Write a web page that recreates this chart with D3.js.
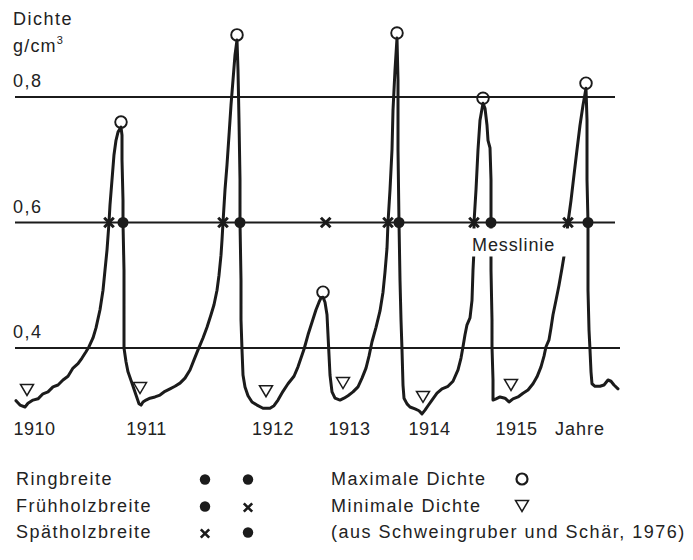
<!DOCTYPE html>
<html>
<head>
<meta charset="utf-8">
<script src="https://cdn.jsdelivr.net/npm/d3@7"></script>
<style>
  html, body { margin: 0; padding: 0; background: #fff; }
  svg text { font-family: "Liberation Sans", Arial, Helvetica, sans-serif; fill: #222; }
</style>
</head>
<body>
<script>
// Density profile along the core (position in mm, density in g/cm³)
const position = [
  0.1, 0.5, 1.0, 1.3, 1.8, 2.3, 2.8, 3.3, 3.8, 4.3, 4.8, 5.3, 5.8, 6.3, 6.7, 7.1, 7.4, 7.8, 8.1, 8.5,
  8.8, 9.0, 9.2, 9.3, 9.4, 9.5, 9.7, 9.9, 10.1, 10.3, 10.6, 10.7, 10.7, 10.8, 10.8, 10.9, 10.9, 10.9,
  11.1, 11.3, 11.7, 12.1, 12.4, 12.6, 12.8, 13.1, 13.5, 14.0, 14.5, 15.0, 15.5, 16.0, 16.5, 17.0, 17.5,
  17.9, 18.3, 18.8, 19.2, 19.6, 19.9, 20.2, 20.4, 20.6, 20.7, 20.8, 21.0, 21.2, 21.4, 21.6, 21.8, 22.0,
  22.2, 22.3, 22.4, 22.5, 22.5, 22.6, 22.6, 22.7, 22.8, 23.0, 23.3, 23.7, 24.2, 24.8, 25.5, 25.9, 26.3,
  26.8, 27.3, 27.9, 28.3, 28.6, 28.9, 29.3, 29.7, 30.1, 30.4, 30.6, 30.8, 31.0, 31.2, 31.3, 31.4, 31.5,
  31.7, 32.0, 32.5, 32.9, 33.3, 33.8, 34.3, 34.7, 35.1, 35.4, 35.7, 36.1, 36.5, 36.8, 37.0, 37.2, 37.3,
  37.5, 37.7, 37.8, 38.0, 38.2, 38.3, 38.3, 38.4, 38.5, 38.6, 38.7, 38.8, 38.9, 39.2, 39.5, 40.0, 40.4,
  40.7, 41.0, 41.3, 41.7, 42.2, 42.7, 43.3, 43.8, 44.3, 44.6, 44.8, 45.0, 45.2, 45.5, 45.7, 45.8, 45.9,
  45.9, 46.1, 46.3, 46.5, 46.8, 47.0, 47.2, 47.3, 47.5, 47.6, 47.6, 47.6, 47.7, 47.7, 47.8, 47.8, 48.1,
  48.5, 49.0, 49.4, 49.8, 50.3, 50.8, 51.3, 51.8, 52.2, 52.6, 52.9, 53.1, 53.4, 53.6, 53.8, 54.1, 54.4,
  54.7, 55.0, 55.3, 55.6, 55.9, 56.2, 56.5, 56.8, 57.1, 57.2, 57.2, 57.3, 57.3, 57.4, 57.5, 57.6, 57.7,
  58.0, 58.5, 58.9, 59.3, 59.6, 59.9, 60.3
];
const density = [
  0.316, 0.309, 0.306, 0.312, 0.317, 0.319, 0.327, 0.330, 0.338, 0.341, 0.349, 0.355, 0.368, 0.375, 0.384, 0.394, 0.402, 0.416, 0.432, 0.461,
  0.492, 0.524, 0.556, 0.578, 0.600, 0.628, 0.668, 0.708, 0.731, 0.744, 0.752, 0.739, 0.700, 0.635, 0.600, 0.524, 0.445, 0.400,
  0.378, 0.362, 0.344, 0.325, 0.311, 0.309, 0.314, 0.317, 0.320, 0.322, 0.325, 0.331, 0.335, 0.339, 0.344, 0.352, 0.365,
  0.381, 0.397, 0.416, 0.433, 0.453, 0.469, 0.492, 0.516, 0.548, 0.572, 0.600, 0.652, 0.692, 0.739, 0.787, 0.827, 0.867,
  0.891, 0.843, 0.763, 0.668, 0.600, 0.508, 0.445, 0.397, 0.357, 0.338, 0.324, 0.314, 0.309, 0.304, 0.304, 0.308, 0.317,
  0.331, 0.343, 0.355, 0.370, 0.384, 0.398, 0.421, 0.441, 0.461, 0.473, 0.480, 0.481, 0.473, 0.453, 0.421, 0.389, 0.357,
  0.330, 0.320, 0.317, 0.320, 0.324, 0.330, 0.338, 0.352, 0.368, 0.387, 0.410, 0.433, 0.459, 0.489, 0.521, 0.559, 0.600,
  0.652, 0.716, 0.779, 0.843, 0.894, 0.827, 0.716, 0.600, 0.508, 0.445, 0.397, 0.341, 0.320, 0.311, 0.306, 0.303, 0.300,
  0.295, 0.301, 0.308, 0.317, 0.328, 0.335, 0.339, 0.347, 0.365, 0.384, 0.402, 0.421, 0.437, 0.448, 0.476, 0.524, 0.556,
  0.600, 0.652, 0.716, 0.763, 0.790, 0.782, 0.755, 0.731, 0.719, 0.668, 0.600, 0.524, 0.445, 0.402, 0.349, 0.317, 0.319,
  0.322, 0.320, 0.314, 0.319, 0.322, 0.328, 0.333, 0.343, 0.354, 0.370, 0.387, 0.402, 0.413, 0.432, 0.453, 0.476, 0.500,
  0.527, 0.556, 0.600, 0.635, 0.676, 0.716, 0.755, 0.787, 0.814, 0.763, 0.668, 0.600, 0.492, 0.429, 0.397, 0.362, 0.343,
  0.339, 0.339, 0.341, 0.349, 0.347, 0.341, 0.335
];

// Maximum density of each ring (circles)
const maxPos = [10.6, 22.2, 30.8, 38.2, 46.8, 57.1];
const maxDensity = [0.752, 0.891, 0.481, 0.894, 0.790, 0.814];
// Minimum density of each ring (triangles)
const minPos = [1.2, 12.5, 25.1, 32.8, 40.8, 49.6];
const minDensity = [0.306, 0.309, 0.304, 0.317, 0.295, 0.314];

// Measuring line and the boundaries found on it
const measureLevel = 0.6;
const ringBoundaryPos = [10.8, 22.5, 38.4, 47.6, 57.3];          // dots
const earlyLateBoundaryPos = [9.4, 20.8, 31.07, 37.3, 45.9, 55.3]; // crosses

// Reference lines of the density axis
const densityTicks = [0.4, 0.6, 0.8];
const densityTickLabels = ["0,4", "0,6", "0,8"];

// Year labels along the core
const yearPos = [1.9, 13.1, 25.75, 33.4, 41.4, 50.1];
const yearLabels = ["1910", "1911", "1912", "1913", "1914", "1915"];

// Legend content
const widthLabels = ["Ringbreite", "Frühholzbreite", "Spätholzbreite"];
const widthSymbols = [["dot", "dot"], ["dot", "cross"], ["cross", "dot"]];
const densityLabels = ["Maximale Dichte", "Minimale Dichte"];
const densitySymbols = ["circle", "triangle"];
const sourceNote = "(aus Schweingruber und Schär, 1976)";

const W = 693, H = 560;
const ink = "#1b1b1b";

const svg = d3.select("body").append("svg")
  .attr("width", W).attr("height", H)
  .attr("viewBox", `0 0 ${W} ${H}`);

const x = d3.scaleLinear().domain([0, 60]).range([15, 615]);
const y = d3.scaleLinear().domain([0.4, 0.8]).range([348, 97]);

// Axis title
svg.append("text").attr("x", 13).attr("y", 25)
  .style("font-size", "18px").style("letter-spacing", "1.5px").text("Dichte");
const unit = svg.append("text").attr("x", 13).attr("y", 52)
  .style("font-size", "18px").style("letter-spacing", "1.2px");
unit.append("tspan").text("g/cm");
unit.append("tspan").attr("dy", -8).style("font-size", "11px").text("3");

// Horizontal reference lines with their labels
const grid = svg.append("g");
grid.selectAll("line").data(densityTicks).join("line")
  .attr("x1", x(0)).attr("x2", (d, i) => i === 0 ? x(60.5) : x(60))
  .attr("y1", d => y(d)).attr("y2", d => y(d))
  .attr("stroke", ink).attr("stroke-width", 1.8);
grid.selectAll("text").data(densityTicks).join("text")
  .attr("x", 13).attr("y", d => y(d) - 10)
  .style("font-size", "18px").style("letter-spacing", "1.5px")
  .text((d, i) => densityTickLabels[i]);

// Density curve
const profile = position.map((p, i) => [p, density[i]]);
const line = d3.line().x(d => x(d[0])).y(d => y(d[1]));
svg.append("path").datum(profile)
  .attr("d", line)
  .attr("fill", "none").attr("stroke", ink)
  .attr("stroke-width", 3).attr("stroke-linejoin", "round").attr("stroke-linecap", "round");

// Label of the measuring line, set on a white band that interrupts the curve
svg.append("rect")
  .attr("x", x(45.1)).attr("y", y(measureLevel) + 6)
  .attr("width", x(55.7) - x(45.1)).attr("height", 28)
  .attr("fill", "#fff");
svg.append("text")
  .attr("x", x(45.7)).attr("y", y(measureLevel) + 28)
  .style("font-size", "18px").style("letter-spacing", "0.9px")
  .text("Messlinie");

// Marker shapes
const crossPath = s => `M${-s},${-s}L${s},${s}M${-s},${s}L${s},${-s}`;
function triPath(w, h) {
  return `M${-w / 2},${-h / 2}L${w / 2},${-h / 2}L0,${h / 2}Z`;
}

// Ring boundaries on the measuring line
svg.append("g").selectAll("circle").data(ringBoundaryPos).join("circle")
  .attr("cx", d => x(d)).attr("cy", y(measureLevel)).attr("r", 5.5)
  .attr("fill", ink);
// Early/late wood boundaries on the measuring line
svg.append("g").selectAll("path").data(earlyLateBoundaryPos).join("path")
  .attr("transform", d => `translate(${x(d)},${y(measureLevel)})`)
  .attr("d", crossPath(4.8))
  .attr("stroke", ink).attr("stroke-width", 3).attr("fill", "none");

// Maximum density circles, resting on the peaks
svg.append("g").selectAll("circle").data(maxPos).join("circle")
  .attr("cx", d => x(d)).attr("cy", (d, i) => y(maxDensity[i]) - 5)
  .attr("r", 5.8)
  .attr("fill", "none").attr("stroke", ink).attr("stroke-width", 1.9);

// Minimum density triangles, above the troughs
svg.append("g").selectAll("path").data(minPos).join("path")
  .attr("transform", (d, i) => `translate(${x(d)},${y(minDensity[i]) - 17})`)
  .attr("d", triPath(13, 11))
  .attr("fill", "none").attr("stroke", ink).attr("stroke-width", 1.5)
  .attr("stroke-linejoin", "miter");

// Year axis along the core
const xAxis = d3.axisBottom(x)
  .tickValues(yearPos)
  .tickFormat((d, i) => yearLabels[i])
  .tickSize(0).tickPadding(0);
const axisG = svg.append("g").attr("transform", "translate(0,435)").call(xAxis);
axisG.select(".domain").remove();
axisG.selectAll("text")
  .attr("y", 0).attr("dy", 0)
  .attr("fill", "#222")
  .style("font-family", "'Liberation Sans', Arial, sans-serif")
  .style("font-size", "18px").style("letter-spacing", "0.5px");
svg.append("text").attr("x", x(54.0)).attr("y", 435)
  .style("font-size", "18px").style("letter-spacing", "1px").text("Jahre");

// Legend
const rowBase = [485, 512, 538];
const legend = svg.append("g");
legend.selectAll("text.w").data(widthLabels).join("text").attr("class", "w")
  .attr("x", 16).attr("y", (d, i) => rowBase[i])
  .style("font-size", "18px").style("letter-spacing", "1.5px").text(d => d);

const symbolX = [205, 248];
widthSymbols.forEach((pair, r) => {
  pair.forEach((kind, c) => {
    const cx = symbolX[c], cy = rowBase[r] - 5.5;
    if (kind === "dot") {
      legend.append("circle").attr("cx", cx).attr("cy", cy).attr("r", 5.2).attr("fill", ink);
    } else {
      legend.append("path").attr("transform", `translate(${cx},${cy + 1})`)
        .attr("d", crossPath(4.2)).attr("stroke", ink).attr("stroke-width", 2.6);
    }
  });
});

legend.selectAll("text.d").data(densityLabels).join("text").attr("class", "d")
  .attr("x", 331).attr("y", (d, i) => rowBase[i])
  .style("font-size", "18px").style("letter-spacing", "1.5px").text(d => d);
densitySymbols.forEach((kind, r) => {
  const cx = 522, cy = rowBase[r] - 6;
  if (kind === "circle") {
    legend.append("circle").attr("cx", cx).attr("cy", cy).attr("r", 5.5)
      .attr("fill", "none").attr("stroke", ink).attr("stroke-width", 2.2);
  } else {
    legend.append("path").attr("transform", `translate(${cx},${cy})`)
      .attr("d", triPath(13, 11)).attr("fill", "none").attr("stroke", ink).attr("stroke-width", 1.5);
  }
});
legend.append("text").attr("x", 331).attr("y", rowBase[2])
  .style("font-size", "18px").style("letter-spacing", "1.5px").text(sourceNote);
</script>
</body>
</html>
